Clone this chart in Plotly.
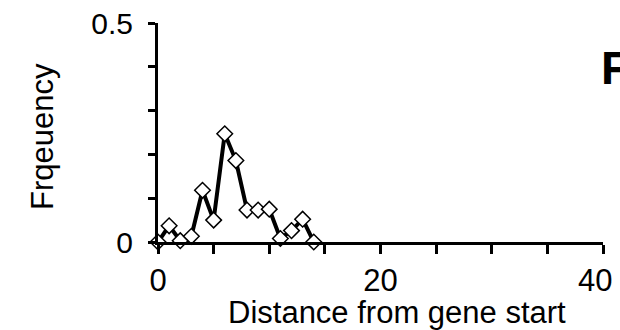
import plotly.graph_objects as go

distance = [0, 1, 2, 3, 4, 5, 6, 7, 8, 9, 10, 11, 12, 13, 14]
frequency = [0.0, 0.037, 0.003, 0.013, 0.118, 0.05, 0.247, 0.186, 0.073, 0.073, 0.075, 0.008, 0.026, 0.052, 0.0]

x_tickvals = [0, 5, 10, 15, 20, 25, 30, 35, 40]
x_ticktext = ["0", "", "", "", "20", "", "", "", "40\u2002"]
y_tickvals = [0, 0.1, 0.2, 0.3, 0.4, 0.5]
y_ticktext = ["0", "", "", "", "", "0.5"]

FONT = "Liberation Sans, Arial, sans-serif"

fig = go.Figure()
fig.add_trace(go.Scatter(
    x=distance, y=frequency, mode="lines+markers",
    line=dict(color="black", width=4),
    marker=dict(symbol="diamond", size=12, color="white",
                line=dict(color="black", width=1.5)),
    cliponaxis=False, showlegend=False,
))

fig.update_layout(
    width=620, height=330,
    margin=dict(l=158, r=17, t=23, b=88, autoexpand=False),
    paper_bgcolor="white", plot_bgcolor="white",
    font=dict(family=FONT, color="black", size=30),
    xaxis=dict(range=[0, 40], tickvals=x_tickvals, ticktext=x_ticktext,
               automargin=False, ticklabeloverflow="allow",
               showgrid=False, zeroline=False, showline=True, linecolor="black",
               linewidth=3, ticks="outside", ticklen=9, tickwidth=3,
               tickcolor="black", tickfont=dict(size=31)),
    yaxis=dict(range=[0, 0.5], tickvals=y_tickvals, ticktext=y_ticktext,
               automargin=False, ticklabeloverflow="allow", ticklabelstandoff=9,
               showgrid=False, zeroline=False, showline=True, linecolor="black",
               linewidth=3, ticks="outside", ticklen=7, tickwidth=3,
               tickcolor="black", tickfont=dict(size=30)),
    annotations=[
        dict(text="Distance from gene start", xref="paper", yref="paper",
             x=(397 - 158) / 445, y=(242 - 312) / 219, xanchor="center", yanchor="middle",
             showarrow=False, font=dict(size=31)),
        dict(text="Frqeuency", xref="paper", yref="paper",
             x=(42 - 158) / 445, y=(242 - 137) / 219, xanchor="center", yanchor="middle",
             textangle=-90, showarrow=False, font=dict(size=31)),
        dict(text="<b>F</b>", xref="paper", yref="paper",
             x=(599 - 158) / 445, y=(242 - 67) / 219, xanchor="left", yanchor="middle",
             showarrow=False, font=dict(size=47)),
    ],
)

fig.write_html("out.html", config={"displayModeBar": False},
               post_script="document.body.style.margin='0';document.body.style.padding='0';document.body.style.overflow='hidden';")
